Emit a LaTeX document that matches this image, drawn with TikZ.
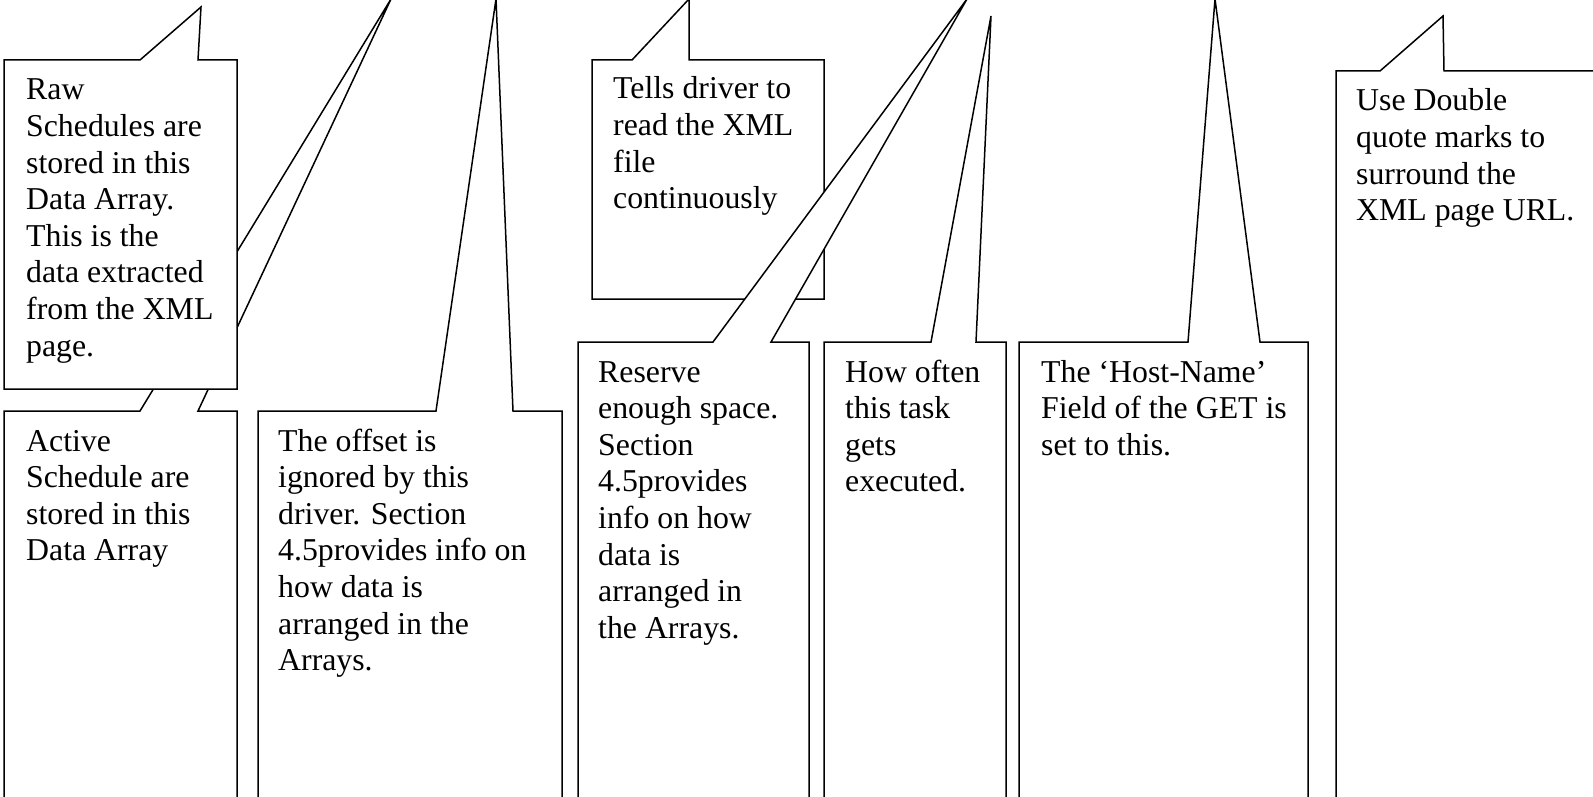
\documentclass[tikz,border=0pt]{standalone}
\usepackage{fontspec}
\setmainfont{Liberation Serif}
\newcommand{\calltext}[1]{\parbox[t]{600pt}{\raggedright #1}}
\begin{document}
\begin{tikzpicture}[x=1pt,y=-1pt,
  callout/.style={draw=black,fill=white,line width=1.5pt,line join=miter},
  calltxt/.style={anchor=base west,inner sep=0pt,font=\fontsize{31.8}{36.6}\selectfont}]
\useasboundingbox (0,0) rectangle (1593,797);
\clip (0,0) rectangle (1593,797);
% Active
\draw[callout] (4,411) -- (140,411) -- (391,-1) -- (198,411) -- (237,411) -- (237,830) -- (4,830) -- cycle;
% Raw
\draw[callout] (4,60) -- (140,60) -- (201,7) -- (198,60) -- (237,60) -- (237,389) -- (4,389) -- cycle;
% Offset
\draw[callout] (258,411) -- (436,411) -- (496,-1) -- (513,411) -- (562,411) -- (562,830) -- (258,830) -- cycle;
% Tells
\draw[callout] (592,60) -- (632,60) -- (689,-1) -- (689,60) -- (824,60) -- (824,299) -- (592,299) -- cycle;
% Reserve
\draw[callout] (578,342) -- (713,342) -- (967,-1) -- (771,342) -- (809,342) -- (809,830) -- (578,830) -- cycle;
% How often
\draw[callout] (824,342) -- (931,342) -- (991,16) -- (976,342) -- (1006,342) -- (1006,830) -- (824,830) -- cycle;
% Host-Name
\draw[callout] (1019,342) -- (1188,342) -- (1215,-1) -- (1260,342) -- (1308,342) -- (1308,830) -- (1019,830) -- cycle;
% Use Double
\draw[callout] (1336,71) -- (1380,71) -- (1443,16) -- (1444,71) -- (1640,71) -- (1640,830) -- (1336,830) -- cycle;

\node[calltxt] (raw) at (26,100) {\calltext{Raw\\Schedules are\\stored in this\\Data Array.\\This is the\\data extracted\\from the XML\\page.}};
\node[calltxt] (active) at (26,451) {\calltext{Active\\Schedule are\\stored in this\\Data Array}};
\node[calltxt] (offset) at (278,451) {\calltext{The offset is\\ignored by this\\driver. Section\\4.5provides info on\\how data is\\arranged in the\\Arrays.}};
\node[calltxt] (tells) at (613,99) {\calltext{Tells driver to\\read the XML\\file\\continuously}};
\node[calltxt] (reserve) at (598,382) {\calltext{Reserve\\enough space.\\Section\\4.5provides\\info on how\\data is\\arranged in\\the Arrays.}};
\node[calltxt] (howoften) at (845,382) {\calltext{How often\\this task\\gets\\executed.}};
\node[calltxt] (host) at (1041,382) {\calltext{The ‘Host-Name’\\Field of the GET is\\set to this.}};
\node[calltxt] (usedq) at (1356,111) {\calltext{Use Double\\quote marks to\\surround the\\XML page URL.}};
\end{tikzpicture}
\end{document}
